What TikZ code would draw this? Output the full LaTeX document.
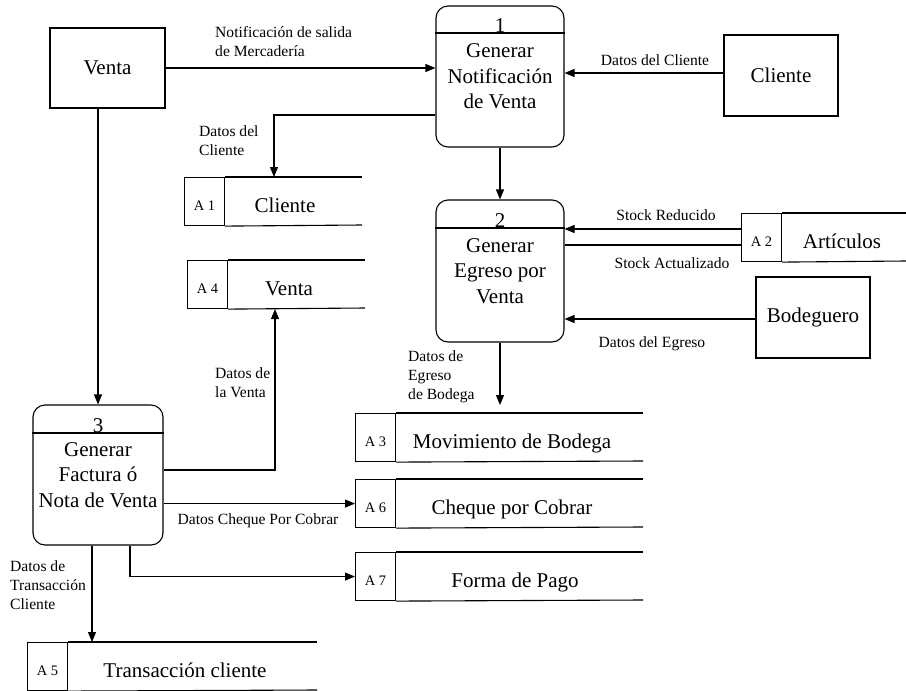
\documentclass[tikz,border=0pt]{standalone}
\usepackage{fontspec}
\setmainfont{Liberation Serif}
\usetikzlibrary{arrows.meta}
\newcommand{\mainfs}{\fontsize{21}{25.5}\selectfont}
\newcommand{\lblfs}{\fontsize{15.6}{19}\selectfont}
\newcommand{\idfs}{\fontsize{14.5}{16}\selectfont}
% data store: #1 name, #2 left x, #3 top y, #4 right x, #5 id, #6 text, #7 text x
\newcommand{\dstore}[7]{%
  \node[sid, anchor=north west] (#1id) at (#2,#3) {#5};
  \node[stext, anchor=base] (#1) at (#7,#3+35) {#6};
  \draw[sline] (#1id.north east) -- (#4,#3);
  \draw[sline] (#1id.south east) -- (#4,#3+48);
}
\begin{document}
\begin{tikzpicture}[x=1pt,y=-1pt,
  ent/.style={draw, line width=1.1pt, inner sep=0pt, font=\mainfs},
  proc/.style={draw, rounded corners=12pt, line width=1.1pt, inner sep=0pt, align=center, font=\mainfs},
  pnum/.style={font=\mainfs, anchor=base, inner sep=0pt},
  sid/.style={draw, line width=1.1pt, minimum width=40pt, minimum height=48pt, inner sep=0pt, text height=17pt, text depth=0pt, font=\idfs},
  stext/.style={font=\mainfs, inner sep=0pt},
  sline/.style={line width=1.1pt},
  flow/.style={line width=1.1pt, -{Triangle[length=10pt,width=8pt]}},
  lbl/.style={font=\lblfs, inner sep=0pt, align=left}]
\useasboundingbox (0,0) rectangle (906,691);
\fill[white] (0,0) rectangle (906,691);

% external entities
\node[ent, minimum width=115pt, minimum height=80pt] (venta) at (107.5,68) {Venta};
\node[ent, minimum width=114pt, minimum height=81pt] (cliente) at (781,75.5) {Cliente};
\node[ent, minimum width=114pt, minimum height=81pt] (bodeguero) at (813,317.5) {Bodeguero};

% processes
\node[proc, minimum width=128pt, minimum height=141pt] (p1) at (500,76.5) {Generar\\Notificación\\de Venta};
\draw[sline] (p1.west |- 0,33) -- (p1.east |- 0,33);
\node[pnum] (p1n) at (500,32) {1};

\node[proc, minimum width=128pt, minimum height=142pt] (p2) at (500,271) {Generar\\Egreso por\\Venta};
\draw[sline] (p2.west |- 0,228) -- (p2.east |- 0,228);
\node[pnum] (p2n) at (500,227) {2};

\node[proc, minimum width=130pt, minimum height=140pt] (p3) at (98,475) {Generar\\Factura ó\\Nota de Venta};
\draw[sline] (p3.west |- 0,433) -- (p3.east |- 0,433);
\node[pnum] (p3n) at (98,432) {3};

% data stores
\dstore{a1}{184}{177}{362}{A 1}{Cliente}{285}
\dstore{a4}{187}{260}{365}{A 4}{Venta}{289}
\dstore{a2}{741}{213}{906}{A 2}{Artículos}{842}
\dstore{a3}{355}{413}{643}{A 3}{Movimiento de Bodega}{512}
\dstore{a6}{355}{479}{643}{A 6}{Cheque por Cobrar}{512}
\dstore{a7}{355}{552}{643}{A 7}{Forma de Pago}{515}
\dstore{a5}{27}{642}{317}{A 5}{Transacción cliente}{185}

% flows
\draw[flow] (venta.east) -- (venta.east -| p1.west);
\draw[flow] (cliente.west |- 0,73) -- (p1.east |- 0,73);
\draw[flow] (p1.west |- 0,115) -| (274,0 |- a1id.north);
\draw[flow] (p1.south) -- (p2.north);
\draw[flow] (a2id.west |- 0,229) -- (p2.east |- 0,229);
\draw[sline] (p2.east |- 0,245) -- (a2id.west |- 0,245);
\draw[flow] (bodeguero.west |- 0,319) -- (p2.east |- 0,319);
\draw[flow, shorten >=8pt] (p2.south) -- (p2.south |- a3id.north);
\draw[flow] (p3.north |- venta.south) -- (p3.north);
\draw[flow] (p3.east |- 0,470) -| (275,0 |- a4id.south);
\draw[flow] (p3.east |- a6id.west) -- (a6id.west);
\draw[flow] (130,0 |- p3.south) |- (a7id.west);
\draw[flow] (92,0 |- p3.south) -- (92,0 |- a5id.north);

% labels
\node[lbl, anchor=west] (l1) at (215,42) {Notificación de salida\\de Mercadería};
\node[lbl] (l2) at (655,60) {Datos del Cliente};
\node[lbl, anchor=west] (l3) at (199,141) {Datos del\\Cliente};
\node[lbl] (l4) at (666,215) {Stock Reducido};
\node[lbl] (l5) at (672,263) {Stock Actualizado};
\node[lbl] (l6) at (652,344) {Datos del Egreso};
\node[lbl, anchor=west] (l7) at (408,377) {Datos de\\Egreso\\de Bodega};
\node[lbl, anchor=west] (l8) at (215,383) {Datos de\\la Venta};
\node[lbl] (l9) at (258,521) {Datos Cheque Por Cobrar};
\node[lbl, anchor=west] (l10) at (10,585) {Datos de\\Transacción\\Cliente};
\end{tikzpicture}
\end{document}
